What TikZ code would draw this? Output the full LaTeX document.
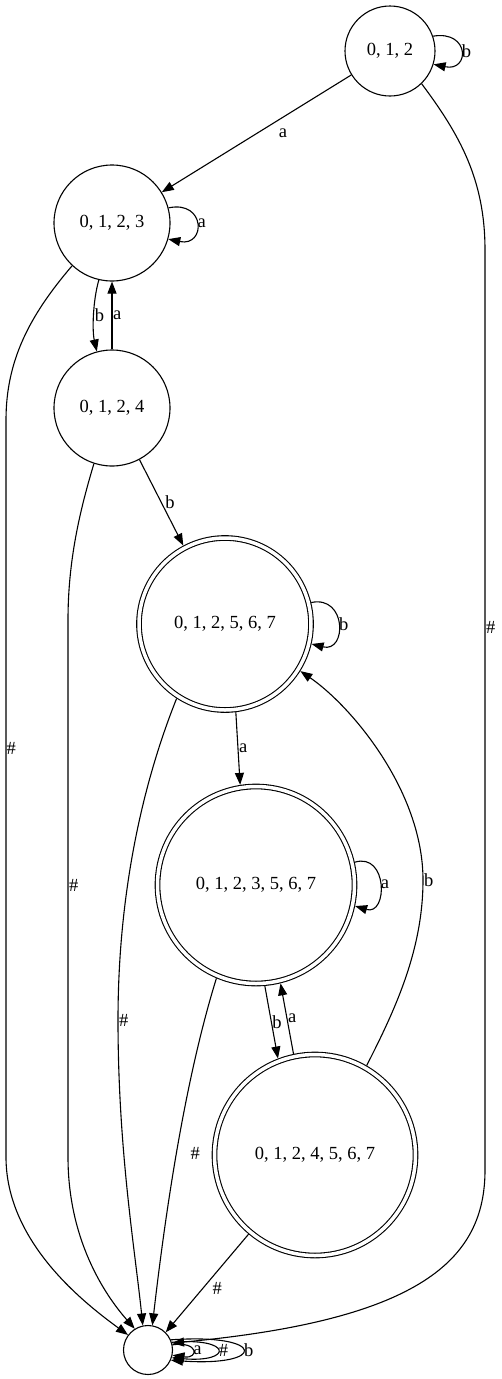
\documentclass[tikz,border=0pt]{standalone}
\usepackage{fontspec}
\setmainfont{Liberation Serif}
\usetikzlibrary{arrows.meta}
\tikzset{
  state/.style={circle,draw,line width=1.1pt,inner sep=0pt},
  accept/.style={state,double,double distance=3.5pt,outer sep=2.85pt},
  trans/.style={-{Triangle[length=12pt,width=9pt]},line width=1.1pt},
  lbl/.style={inner sep=0.5pt}
}
\begin{document}
\begin{tikzpicture}[x=1pt,y=-1pt,font=\fontsize{18.5}{22}\selectfont]
            \useasboundingbox(0,0)rectangle(501,1379);
            % States
            \node[state,minimum size=90pt](q012)at(390,51){0, 1, 2};
            \node[state,minimum size=116pt](q0123)at(112,223){0, 1, 2, 3};
            \node[state,minimum size=116pt](q0124)at(112,408){0, 1, 2, 4};
            \node[accept,minimum size=172pt](q012567)at(225,624){0, 1, 2, 5, 6, 7};
            \node[accept,minimum size=197pt](q0123567)at(256,885){0, 1, 2, 3, 5, 6, 7};
            \node[accept,minimum size=201pt](q0124567)at(315,1155){0, 1, 2, 4, 5, 6, 7};
            \node[state,minimum size=49pt](qdead)at(148,1350){};
            % Self loops
            \draw[trans](q012.19)..controls(470,30)and(470,72)..node[lbl,right]{b}(q012.-17);
            \draw[trans](q0123.15)..controls(206,200)and(206,247)..node[lbl,right]{a}(q0123.-16);
            \draw[trans](q012567.14)..controls(347,595)and(347,653)..node[lbl,right]{b}(q012567.-13);
            \draw[trans](q0123567.13)..controls(388,852)and(388,916)..node[lbl,right]{a}(q0123567.-12);
            \draw[trans](qdead.12)..controls(199,1341)and(199,1359)..node[lbl,right]{a}(qdead.-12);
            \draw[trans](qdead.18)..controls(233,1337)and(233,1363)..node[lbl,right]{\#}(qdead.-18);
            \draw[trans](qdead.24)..controls(267,1333)and(267,1367)..node[lbl,right]{b}(qdead.-24);
            % Transitions between states
            \draw[trans](q012)--node[lbl,pos=.36,yshift=-16pt]{a}(q0123);
            \draw[trans](q0123.257)..controls(93,300)and(92,330)..node[lbl,right]{b}(q0124.105);
            \draw[trans](q0124.north)--node[lbl,right]{a}(q0123.south);
            \draw[trans](q0124.-62)--node[lbl,right=3pt]{b}(q012567.118);
            \draw[trans](q012567.277)--node[lbl,right]{a}(q0123567.99);
            \draw[trans](q0123567.275)--node[lbl,right]{b}(q0124567.111);
            \draw[trans](q0124567.102)--node[lbl,right]{a}(q0123567.284);
            \draw[trans](q0124567.60)..controls(395,1010)and(423,950)..node[lbl,pos=1,right]{b}(423,880)..controls(423,790)and(350,705)..(q012567.-32);
            % Transitions on #
            \draw[trans](q012.-46)..controls(460,135)and(485,180)..(485,250)--node[lbl,pos=.41,right]{\#}(485,1170)..controls(485,1260)and(420,1320)..(qdead.16);
            \draw[trans](q0123.227)..controls(30,315)and(6,360)..(6,420)--node[lbl,pos=.445,right,inner sep=0pt]{\#}(6,1157)..controls(6,1240)and(80,1300)..(qdead.143);
            \draw[trans](q0124.252)..controls(80,510)and(68,560)..(68,620)--node[lbl,pos=.495,right]{\#}(68,1157)..controls(68,1240)and(105,1295)..(qdead.122);
            \draw[trans](q012567.237)..controls(140,790)and(118,900)..node[lbl,pos=1,right]{\#}(118,1020)..controls(118,1150)and(135,1250)..(qdead.102);
            \draw[trans](q0123567.247)..controls(188,1070)and(168,1190)..node[lbl,pos=.55,right=13pt]{\#}(qdead.80);
            \draw[trans](q0124567.230)--node[lbl,pos=.55,right=8.5pt]{\#}(qdead.45);
\end{tikzpicture}
\end{document}
